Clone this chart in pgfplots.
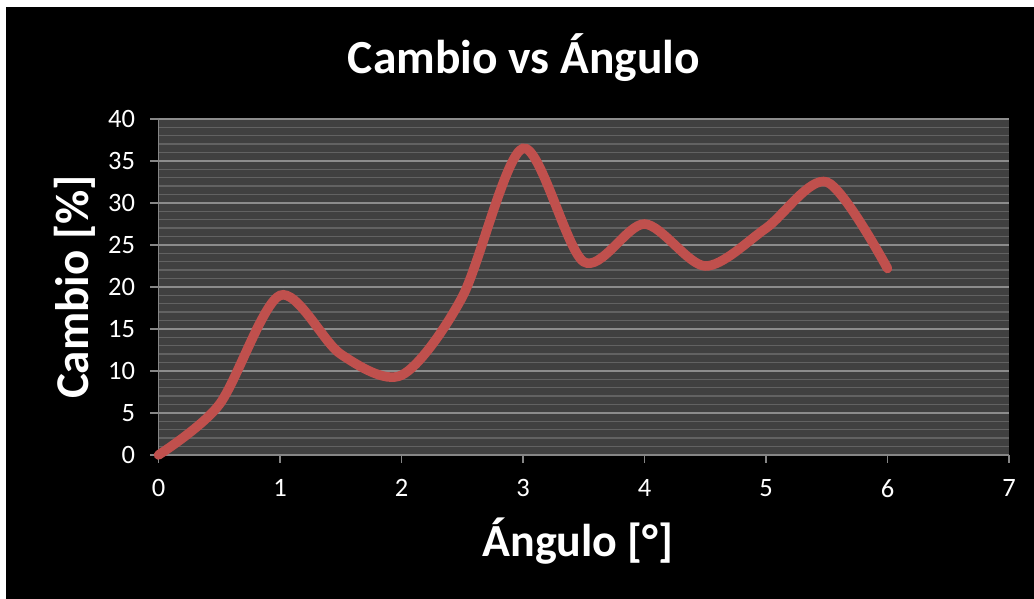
\documentclass[border=0pt]{standalone}
\usepackage{pgfplots}
\pgfplotsset{compat=1.18}
\usepackage{fontspec}
\setmainfont{Carlito}
\definecolor{plotbg}{HTML}{404040}
\definecolor{majgrid}{HTML}{8C8C8C}
\definecolor{mingrid}{HTML}{626262}
\definecolor{axisgray}{HTML}{868686}
\definecolor{linered}{HTML}{C0504D}
\pgfplotstableread{
x y
0 0
0.5 6
1 19
1.5 12
2 9.5
2.5 18.8
3 36.5
3.5 23
4 27.5
4.5 22.5
5 27
5.5 32.5
6 22.2
}\datatable
\begin{document}
\begin{tikzpicture}[x=1pt,y=1pt]
\path[use as bounding box] (0,0) rectangle (1034,599);
\fill[white] (0,0) rectangle (1034,599);
\fill[black] (6,0) rectangle (1034,592);
\begin{axis}[
  at={(158.5pt,144pt)}, anchor=south west,
  scale only axis, width=850.5pt, height=336pt,
  xmin=0, xmax=7, ymin=0, ymax=40,
  xtick={0,1,...,7}, ytick={0,5,...,40},
  minor y tick num=4,
  ymajorgrids, yminorgrids,
  major grid style={majgrid, line width=1.6pt},
  minor grid style={mingrid, line width=1.4pt},
  axis background/.style={fill=plotbg},
  axis x line*=bottom, axis y line*=left,
  axis line style={axisgray, line width=1.3pt, -},
  tick align=outside, major tick length=8pt, minor tick length=0pt,
  tick style={axisgray, line width=1.2pt},
  /pgf/number format/assume math mode=true,
  ticklabel style={white, font=\fontsize{26.5}{30}\selectfont},
  yticklabel style={anchor=east, xshift=-12pt},
  xticklabel style={anchor=north, yshift=-13pt},
  clip=false,
]
\addplot[linered, line width=9.5pt, smooth, line cap=round] table[x=x,y=y] {\datatable};
\end{axis}
\node[white, font=\bfseries\fontsize{47.5}{50}\selectfont, anchor=base] at (524,525) {Cambio vs Ángulo};
\node[white, font=\bfseries\fontsize{46}{50}\selectfont, anchor=base] at (578,42) {Ángulo [°]};
\node[white, font=\bfseries\fontsize{47}{50}\selectfont, anchor=base, rotate=90] at (88,312) {Cambio [\%]};
\end{tikzpicture}
\end{document}
